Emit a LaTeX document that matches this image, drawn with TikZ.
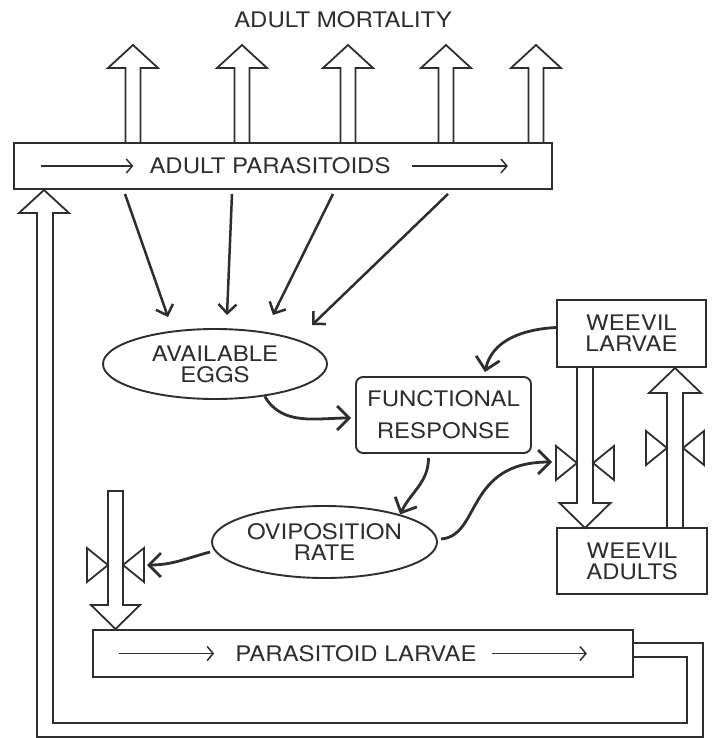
\documentclass[tikz,border=0pt]{standalone}
\usepackage{fontspec}
\setmainfont{TeX Gyre Heros}[FakeStretch=1.12]
\usepackage{tikz}
\usetikzlibrary{shapes.geometric,arrows.meta,calc}
\definecolor{ink}{HTML}{2E2E2E}
\tikzset{
  lbl/.style  ={font=\fontsize{21.4}{21}\selectfont, text=ink, align=center, inner sep=0pt},
  box/.style  ={rectangle, draw=ink, line width=1.9pt, lbl},
  rbox/.style ={box, rounded corners=7pt},
  oval/.style ={ellipse, draw=ink, line width=1.9pt, lbl},
  flow/.style ={draw=ink, line width=1.8pt, line join=miter},
  ar/.style   ={-{Straight Barb[length=9pt,width=18pt]}, draw=ink, line width=2.5pt},
  carr/.style ={-{Straight Barb[length=12pt,width=24pt]}, draw=ink, line width=2.8pt},
  inar/.style ={-{Straight Barb[length=6pt,width=14pt]}, draw=ink, line width=1.5pt}
}
% bow-tie valve on a flow: left shaft x, right shaft x, y
\newcommand{\valve}[3]{%
  \draw[flow] (#1,#3) -- (#1-21,#3-17) -- (#1-21,#3+17) -- cycle;
  \draw[flow] (#2,#3) -- (#2+21,#3-17) -- (#2+21,#3+17) -- cycle;}

\begin{document}
\begin{tikzpicture}[x=1pt,y=-1pt]
\useasboundingbox (0,0) rectangle (712,738);

\node[lbl] (mort) at (343,20) {ADULT MORTALITY};
\node[box, minimum width=538pt, minimum height=46pt] (adpar) at (283,166) {};
\node[lbl] (adparT) at (270,166) {ADULT PARASITOIDS};
\draw[inar] ([xshift=28pt]adpar.west) -- ([xshift=-16pt]adparT.west);
\draw[inar] ([xshift=21pt]adparT.east) -- ([xshift=-45pt]adpar.east);
\foreach \x in {133,242,348,446,536}
  \draw[flow] (\x-7.5,143) -- (\x-7.5,68) -- (\x-25,68) -- (\x,45)
    -- (\x+25,68) -- (\x+7.5,68) -- (\x+7.5,143);

\node[oval, minimum width=224pt, minimum height=70pt] (ae) at (215,364) {AVAILABLE\\EGGS};
\node[rbox, minimum width=175pt, minimum height=76pt] (fr) at (443.5,415) {FUNCTIONAL\\[11pt]RESPONSE};
\node[oval, minimum width=225pt, minimum height=72pt] (ovi) at (324.5,542) {OVIPOSITION\\RATE};
\node[box, minimum width=149pt, minimum height=67pt] (wl) at (631.5,333.5) {WEEVIL\\LARVAE};
\node[box, minimum width=150pt, minimum height=66pt] (wa) at (632,561) {WEEVIL\\ADULTS};

\node[box, minimum width=540pt, minimum height=47pt] (pl) at (363,653.5) {};
\node[lbl] (plT) at (356,653.5) {PARASITOID LARVAE};
\draw[inar] ([xshift=27pt]pl.west) -- ([xshift=-21pt]plT.west);
\draw[inar] ([xshift=15pt]plT.east) -- ([xshift=-47pt]pl.east);

% parasitoid larvae back to adults
\draw[flow] ([yshift=10.5pt]pl.east) -| (703,737) -| (37,213) -- (19,213)
  -- (44,190) -- (69,213) -- (53,213) |- (687,723) |- ([yshift=-3.5pt]pl.east);
% oviposition into larvae
\draw[flow] (108,491) -- (123,491) -- (123,605) -- (140,605)
  -- (115.5,629) -- (91,605) -- (108,605) -- cycle;
\valve{108}{123}{565}
\coordinate (lvalve) at (147,565);

% weevil stages
\draw[flow] (577,368) -- (577,503) -- (559.5,503) -- (585,528)
  -- (610.5,503) -- (593,503) -- (593,368);
\draw[flow] (667,528) -- (667,393) -- (649,393) -- (675,368)
  -- (701,393) -- (683,393) -- (683,528);
\valve{577}{593}{463}
\valve{667}{683}{448}
\coordinate (rvalve) at (552,462);

\foreach \s/\e/\h in {-158/-47/11, -51/12/13, 50/58/13, 165/97/3}
  \draw[ar] ([xshift=\s pt,yshift=-4pt]adpar.south) -- ([xshift=\e pt,yshift=\h pt]ae.north);

\draw[carr] ([yshift=6pt]wl.west) to[out=183,in=78] ([xshift=41.5pt,yshift=4pt]fr.north);
\draw[carr] (ae.-33) to[out=-60,in=180] ([xshift=-4pt,yshift=-3pt]fr.west);
\draw[carr] ([xshift=-15pt,yshift=-4pt]fr.south) to[out=-90,in=65] (ovi.20);
\draw[carr] ([xshift=-1pt,yshift=-10pt]ovi.west) to[out=195,in=0] (lvalve);
\draw[carr] ([xshift=3pt,yshift=3pt]ovi.east) .. controls +(40,-3) and +(-87,0) .. (rvalve);
\end{tikzpicture}
\end{document}
